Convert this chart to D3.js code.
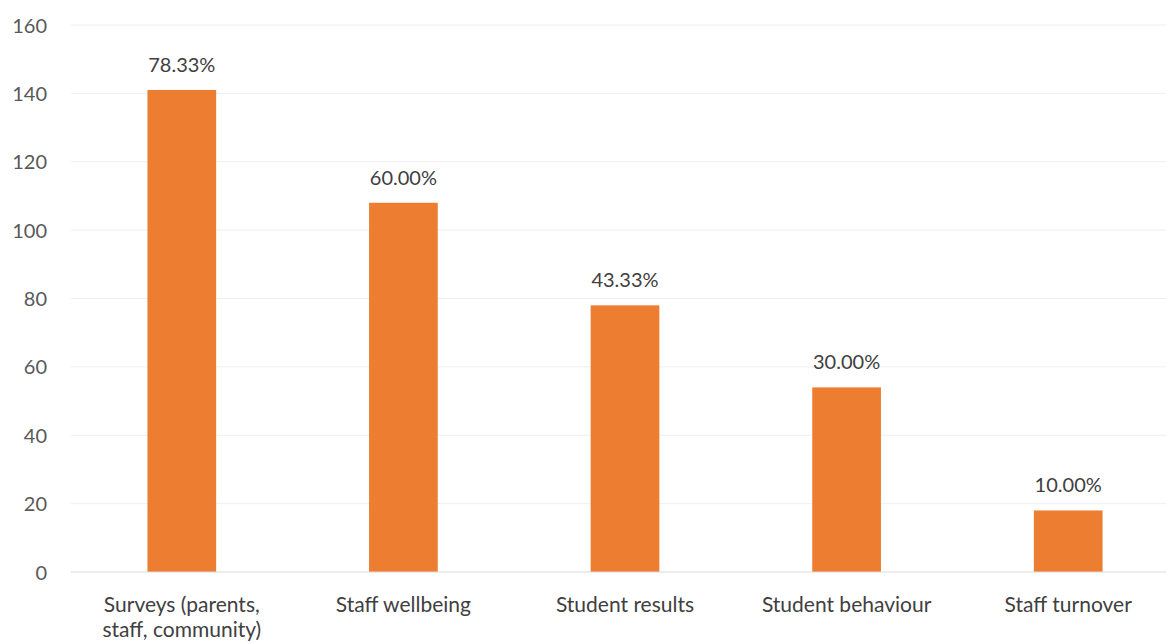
<!DOCTYPE html>
<html>
<head>
<meta charset="utf-8">
<script src="https://cdn.jsdelivr.net/npm/d3@7"></script>
<style>
  html, body { margin: 0; padding: 0; background: #fff; }
  svg { display: block; }
  text { font-family: Lato, "Open Sans", sans-serif; }
</style>
</head>
<body>
<div id="chart"></div>
<script>
// Respondent counts per measure (out of 180 respondents)
const categories = [
  ["Surveys (parents,", "staff, community)"],
  ["Staff wellbeing"],
  ["Student results"],
  ["Student behaviour"],
  ["Staff turnover"]
];
const counts = [141, 108, 78, 54, 18];
const percentLabels = ["78.33%", "60.00%", "43.33%", "30.00%", "10.00%"];
const yTicks = [0, 20, 40, 60, 80, 100, 120, 140, 160];

const W = 1166, H = 644;
const margin = { left: 71, right: -13, top: 25, bottom: 72 };

const svg = d3.select("#chart").append("svg")
  .attr("width", W).attr("height", H);

const x = d3.scaleBand()
  .domain(d3.range(categories.length))
  .range([margin.left, W - margin.right])
  .paddingInner(0.69)
  .paddingOuter(0.345);

const y = d3.scaleLinear()
  .domain([0, 160])
  .range([H - margin.bottom, margin.top]);

// Gridlines
svg.append("g")
  .selectAll("line")
  .data(yTicks.filter(d => d > 0))
  .join("line")
  .attr("x1", margin.left).attr("x2", W)
  .attr("y1", d => y(d)).attr("y2", d => y(d))
  .attr("stroke", "#efefef").attr("stroke-width", 1);

// Y axis labels
const yAxis = d3.axisLeft(y).tickValues(yTicks).tickSize(0).tickPadding(0);
svg.append("g")
  .attr("transform", `translate(47,0)`)
  .call(yAxis)
  .call(g => g.select(".domain").remove())
  .call(g => g.selectAll("text")
    .attr("fill", "#595959")
    .style("font-size", "20px")
    .style("font-family", "Lato, 'Open Sans', sans-serif")
    .attr("dy", "0.35em"));

// Bars
svg.append("g")
  .selectAll("rect")
  .data(counts)
  .join("rect")
  .attr("x", (d, i) => x(i))
  .attr("width", x.bandwidth())
  .attr("y", d => y(d))
  .attr("height", d => y(0) - y(d))
  .attr("fill", "#ed7d31");

// Baseline axis
svg.append("line")
  .attr("x1", margin.left).attr("x2", W)
  .attr("y1", y(0)).attr("y2", y(0))
  .attr("stroke", "#d9d9d9").attr("stroke-width", 1);

// Value labels
svg.append("g")
  .selectAll("text")
  .data(counts)
  .join("text")
  .attr("x", (d, i) => x(i) + x.bandwidth() / 2)
  .attr("y", d => y(d) - 18)
  .attr("text-anchor", "middle")
  .attr("fill", "#404040")
  .style("font-size", "20px")
  .text((d, i) => percentLabels[i]);

// Category labels
const cat = svg.append("g")
  .selectAll("text")
  .data(categories)
  .join("text")
  .attr("x", (d, i) => x(i) + x.bandwidth() / 2)
  .attr("y", 612)
  .attr("text-anchor", "middle")
  .attr("fill", "#404040")
  .style("font-size", "21px");
cat.selectAll("tspan")
  .data(d => d)
  .join("tspan")
  .attr("x", function () { return d3.select(this.parentNode).attr("x"); })
  .attr("dy", (d, i) => i === 0 ? 0 : 25)
  .text(d => d);
</script>
</body>
</html>
